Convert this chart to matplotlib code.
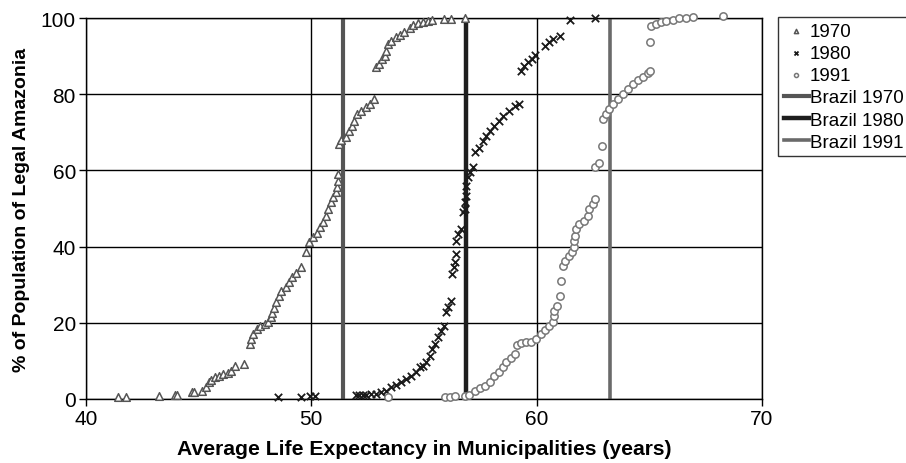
import matplotlib
matplotlib.use("Agg")
import matplotlib.pyplot as plt

plt.rcParams['font.family'] = ['Liberation Sans', 'DejaVu Sans']

# ---- data ----
x1970 = [41.44, 41.77, 43.23, 43.94, 44.06, 44.71, 44.81, 45.17, 45.33, 45.46, 45.55, 45.73,
         45.91, 46.10, 46.29, 46.44, 46.62, 47.01, 47.29, 47.32, 47.43, 47.58, 47.72, 47.94,
         48.09, 48.20, 48.28, 48.34, 48.46, 48.58, 48.68, 48.87, 49.02, 49.17, 49.35, 49.57,
         49.76, 49.91, 50.09, 50.24, 50.38, 50.53, 50.65, 50.75, 50.86, 50.97, 51.09, 51.15,
         51.17, 51.21, 51.24, 51.34, 51.53, 51.68, 51.79, 51.90, 52.04, 52.23, 52.45, 52.60,
         52.77, 52.86, 53.01, 53.16, 53.26, 53.31, 53.41, 53.56, 53.75, 53.93, 54.12, 54.37,
         54.52, 54.74, 54.96, 55.18, 55.37, 55.88, 56.22, 56.81]
y1970 = [0.4, 0.4, 0.9, 1.1, 1.1, 1.7, 1.8, 2.0, 3.1, 4.4, 5.1, 5.8,
         6.1, 6.5, 6.8, 7.4, 8.6, 9.3, 14.3, 15.7, 17.1, 18.4, 19.1, 19.7,
         20.3, 21.4, 22.6, 23.8, 25.4, 27.1, 28.4, 29.3, 30.6, 31.9, 33.1, 34.6,
         38.7, 41.1, 42.4, 43.6, 45.1, 46.5, 48.1, 49.9, 51.6, 52.9, 54.3, 55.6,
         57.3, 59.1, 66.9, 68.1, 68.7, 70.4, 71.7, 73.0, 74.8, 75.7, 76.6, 77.4,
         78.7, 87.1, 87.9, 89.2, 90.1, 91.4, 93.2, 94.0, 94.9, 95.5, 96.4, 97.3,
         98.2, 98.7, 99.0, 99.3, 99.5, 99.7, 99.7, 99.9]

x1980 = [48.53, 49.57, 49.94, 50.16, 52.01, 52.14, 52.28, 52.45, 52.67, 52.89, 53.11, 53.34,
         53.56, 53.78, 54.00, 54.22, 54.44, 54.67, 54.81, 54.96, 55.11, 55.26, 55.37, 55.48,
         55.62, 55.77, 55.88, 55.96, 56.07, 56.22, 56.26, 56.32, 56.36, 56.41, 56.44, 56.51,
         56.66, 56.73, 56.81, 56.81, 56.85, 56.88, 56.95, 57.06, 57.20, 57.29, 57.44, 57.62,
         57.77, 57.94, 58.13, 58.33, 58.53, 58.77, 59.02, 59.24, 59.32, 59.42, 59.61, 59.81,
         59.95, 60.39, 60.54, 60.72, 61.02, 61.46, 62.57]
y1980 = [0.4, 0.5, 0.7, 0.8, 1.0, 1.0, 1.0, 1.0, 1.3, 1.3, 1.7, 2.2,
         3.1, 3.7, 4.4, 5.2, 6.1, 7.2, 8.3, 8.7, 9.6, 11.4, 13.1, 14.4,
         16.2, 17.9, 19.2, 22.7, 24.1, 25.8, 32.8, 34.6, 35.9, 38.1, 41.5, 43.3,
         44.6, 49.0, 49.9, 51.6, 53.4, 56.0, 58.2, 59.5, 60.8, 64.7, 66.0, 67.8,
         69.1, 70.4, 71.7, 73.0, 74.4, 75.7, 76.8, 77.4, 86.2, 87.5, 88.4, 89.2,
         90.3, 92.7, 93.6, 94.5, 95.4, 99.5, 100.0]

x1991 = [53.41, 55.92, 56.14, 56.36, 56.81, 57.00, 57.25, 57.47, 57.69, 57.94, 58.13, 58.33,
         58.50, 58.65, 58.87, 59.02, 59.12, 59.32, 59.54, 59.76, 59.98, 60.20, 60.39, 60.54,
         60.72, 60.75, 60.79, 60.90, 61.02, 61.09, 61.16, 61.28, 61.43, 61.58, 61.68, 61.68,
         61.72, 61.75, 61.90, 62.12, 62.27, 62.34, 62.49, 62.57, 62.57, 62.79, 62.91, 62.93,
         63.08, 63.23, 63.41, 63.60, 63.82, 64.04, 64.26, 64.48, 64.71, 64.93, 65.03, 65.03,
         65.08, 65.30, 65.52, 65.74, 66.03, 66.33, 66.63, 66.92, 68.25]
y1991 = [0.4, 0.5, 0.6, 0.7, 0.8, 1.0, 2.2, 2.8, 3.3, 4.5, 6.1, 7.2,
         8.3, 9.6, 10.7, 11.8, 14.2, 14.7, 14.9, 15.0, 15.7, 17.1, 18.2, 19.2,
         20.1, 21.9, 23.2, 24.5, 27.1, 31.0, 35.0, 36.3, 37.4, 38.7, 39.8, 41.5,
         42.9, 44.6, 45.9, 46.8, 48.1, 49.9, 51.2, 52.5, 60.8, 61.9, 66.5, 73.5,
         74.8, 76.1, 77.4, 78.7, 80.1, 81.4, 82.7, 83.6, 84.5, 85.6, 86.2, 93.8,
         98.0, 98.4, 98.9, 99.1, 99.5, 99.9, 100.1, 100.4, 100.6]

brazil_years = ['Brazil 1970', 'Brazil 1980', 'Brazil 1991']
brazil_values = [51.41, 56.85, 63.27]

x_ticks = [40, 50, 60, 70]
y_ticks = [0, 20, 40, 60, 80, 100]

# ---- figure ----
fig = plt.figure(figsize=(9.06, 4.64), dpi=100)
ax = fig.add_axes([0.0946, 0.138, 0.7465, 0.821])

ax.set_xlim(40, 70)
ax.set_ylim(0, 100)
ax.set_xticks(x_ticks)
ax.set_yticks(y_ticks)
ax.grid(True, color='black', linewidth=1.0)
ax.set_axisbelow(True)
for s in ax.spines.values():
    s.set_color('black')
    s.set_linewidth(1.0)
ax.tick_params(axis='both', labelsize=15, length=5, width=1, color='black', pad=2)

h1 = ax.scatter(x1970, y1970, marker='^', s=30, facecolors='white', edgecolors='#555555',
                linewidths=1.1, clip_on=False, zorder=3, label='1970')
h2 = ax.scatter(x1980, y1980, marker='x', s=28, color='#1a1a1a', linewidths=1.3,
                clip_on=False, zorder=3, label='1980')
h3 = ax.scatter(x1991, y1991, marker='o', s=28, facecolors='white', edgecolors='#777777',
                linewidths=1.1, clip_on=False, zorder=3, label='1991')

line_colors = ['#555555', '#1e1e1e', '#6a6a6a']
line_widths = [3.0, 3.2, 2.6]
lh = []
for name, v, c, w in zip(brazil_years, brazil_values, line_colors, line_widths):
    l = ax.axvline(v, color=c, linewidth=w, zorder=2, label=name)
    lh.append(l)

ax.set_xlabel('Average Life Expectancy in Municipalities (years)', fontsize=15.2,
              fontweight='bold', labelpad=8)
ax.set_ylabel('% of Population of Legal Amazonia', fontsize=14, fontweight='bold',
              labelpad=8)

leg = fig.legend(handles=[h1, h2, h3] + lh,
                 labels=['1970', '1980', '1991'] + brazil_years,
                 loc='upper left', bbox_to_anchor=(0.8587, 0.961),
                 frameon=True, fancybox=False, edgecolor='black', fontsize=13.5,
                 markerscale=0.55, handlelength=1.35, handletextpad=0.05,
                 borderpad=0.3, labelspacing=0.27, borderaxespad=0)
leg.get_frame().set_linewidth(1.0)

fig.savefig('out.png', dpi=100)
